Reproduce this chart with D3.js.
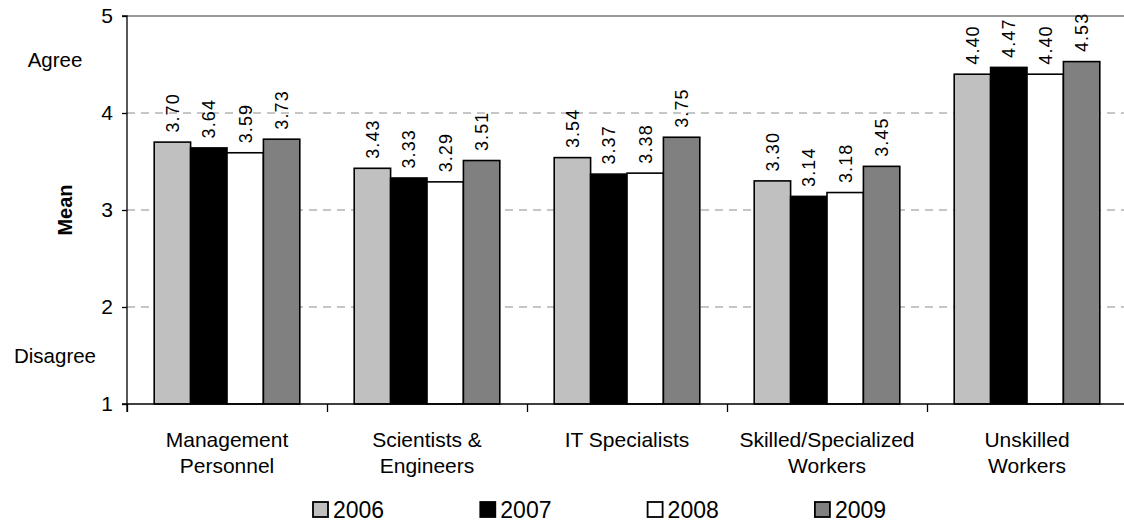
<!DOCTYPE html>
<html>
<head>
<meta charset="utf-8">
<script src="https://cdn.jsdelivr.net/npm/d3@7"></script>
<style>
  html, body { margin: 0; padding: 0; background: #fff; }
  svg { display: block; font-family: "Liberation Sans", Arial, sans-serif; }
</style>
</head>
<body>
<svg id="chart" width="1124" height="522"></svg>
<script>
// Mean agreement ratings by worker category, per survey year
const categories = [
  ["Management", "Personnel"],
  ["Scientists &", "Engineers"],
  ["IT Specialists"],
  ["Skilled/Specialized", "Workers"],
  ["Unskilled", "Workers"]
];
const years = ["2006", "2007", "2008", "2009"];
const values2006 = [3.70, 3.43, 3.54, 3.30, 4.40];
const values2007 = [3.64, 3.33, 3.37, 3.14, 4.47];
const values2008 = [3.59, 3.29, 3.38, 3.18, 4.40];
const values2009 = [3.73, 3.51, 3.75, 3.45, 4.53];
const yTicks = [1, 2, 3, 4, 5];
const scaleLabels = [{ text: "Agree", v: 4.55 }, { text: "Disagree", v: 1.5 }];

const series = [values2006, values2007, values2008, values2009];
const fills = ["#c0c0c0", "#000000", "#ffffff", "#808080"];

const svg = d3.select("#chart");
const plotLeft = 127, plotRight = 1127, plotTop = 16, plotBottom = 404;

const catKeys = categories.map((c, i) => i);
const x0 = d3.scaleBand().domain(catKeys).range([plotLeft, plotRight]);
const groupGap = x0.bandwidth() * 0.136;
const x1 = d3.scaleBand().domain(years)
  .range([groupGap, x0.bandwidth() - groupGap]).padding(0);
const y = d3.scaleLinear().domain([1, 5]).range([plotBottom, plotTop]);

// dashed gridlines
svg.append("g")
  .selectAll("line")
  .data([2, 3, 4])
  .join("line")
  .attr("x1", plotLeft).attr("x2", 1124)
  .attr("y1", d => y(d)).attr("y2", d => y(d))
  .attr("stroke", "#8c8c8c").attr("stroke-width", 1)
  .attr("stroke-dasharray", "8,6");

// top border
svg.append("line")
  .attr("x1", plotLeft).attr("x2", 1124)
  .attr("y1", y(5)).attr("y2", y(5))
  .attr("stroke", "#999").attr("stroke-width", 2);

// bars
const groups = svg.append("g")
  .selectAll("g")
  .data(catKeys)
  .join("g")
  .attr("transform", d => `translate(${x0(d)},0)`);

const cells = ci => years.map((yr, si) => ({ yr, si, v: series[si][ci] }));

groups.selectAll("rect")
  .data(cells)
  .join("rect")
  .attr("x", d => x1(d.yr))
  .attr("y", d => y(d.v))
  .attr("width", x1.bandwidth())
  .attr("height", d => y(1) - y(d.v))
  .attr("fill", d => fills[d.si])
  .attr("stroke", "#000").attr("stroke-width", 1.6);

// value labels, rotated to read upward
groups.selectAll("g.value")
  .data(cells)
  .join("g")
  .attr("class", "value")
  .attr("transform", d => `translate(${x1(d.yr) + x1.bandwidth() / 2},${y(d.v) - 9.5}) rotate(-90)`)
  .append("text")
  .attr("x", 0).attr("y", 0)
  .attr("dy", "0.35em")
  .attr("text-anchor", "start")
  .attr("font-size", 18)
  .attr("letter-spacing", 1.1)
  .attr("fill", "#000")
  .text(d => d.v.toFixed(2));

// y axis
const yAxis = d3.axisLeft(y).tickValues(yTicks).tickSize(5).tickPadding(9)
  .tickFormat(d3.format("d"));
const gy = svg.append("g").attr("transform", `translate(${plotLeft},0)`).call(yAxis);
gy.select(".domain").attr("stroke", "#000").attr("stroke-width", 1.3)
  .attr("d", `M-5,${plotTop}H0V${plotBottom + 8}`);
gy.selectAll(".tick line").attr("stroke", "#000").attr("stroke-width", 1.3);
gy.selectAll(".tick text").attr("font-size", 21).attr("fill", "#000")
  .attr("font-family", "'Liberation Sans', Arial, sans-serif");

// x axis
const xAxis = d3.axisBottom(d3.scaleLinear().domain([0, 5]).range([plotLeft, plotRight]))
  .tickValues([0, 1, 2, 3, 4, 5]).tickSize(8).tickFormat("");
const gx = svg.append("g").attr("transform", `translate(0,${plotBottom})`).call(xAxis);
gx.select(".domain").attr("stroke", "#000").attr("stroke-width", 1.3)
  .attr("d", `M${plotLeft - 5},0H${plotRight}`);
gx.selectAll(".tick line").attr("stroke", "#000").attr("stroke-width", 1.3);

// category labels
svg.append("g")
  .selectAll("text")
  .data(catKeys)
  .join("text")
  .attr("x", d => x0(d) + x0.bandwidth() / 2)
  .attr("y", 447)
  .attr("text-anchor", "middle")
  .attr("font-size", 21)
  .attr("fill", "#000")
  .each(function (d) {
    const t = d3.select(this);
    categories[d].forEach((line, i) => {
      t.append("tspan")
        .attr("x", x0(d) + x0.bandwidth() / 2)
        .attr("dy", i === 0 ? 0 : 26)
        .text(line);
    });
  });

// scale labels
svg.append("g")
  .selectAll("text")
  .data(scaleLabels)
  .join("text")
  .attr("x", 55)
  .attr("y", d => y(d.v))
  .attr("dy", "0.35em")
  .attr("text-anchor", "middle")
  .attr("font-size", 20.5)
  .attr("fill", "#000")
  .text(d => d.text);

// axis title
svg.append("text")
  .attr("transform", `translate(65,${(plotTop + plotBottom) / 2}) rotate(-90)`)
  .attr("dy", "0.35em")
  .attr("text-anchor", "middle")
  .attr("font-size", 20)
  .attr("font-weight", "bold")
  .attr("fill", "#000")
  .text("Mean");

// legend
const legend = svg.append("g")
  .selectAll("g")
  .data(years)
  .join("g")
  .attr("transform", (d, i) => `translate(${313 + i * 167.3},502)`);
legend.append("rect")
  .attr("width", 15).attr("height", 15)
  .attr("fill", (d, i) => fills[i])
  .attr("stroke", "#000").attr("stroke-width", 1.8);
legend.append("text")
  .attr("x", 20).attr("y", 16)
  .attr("font-size", 23)
  .attr("fill", "#000")
  .text(d => d);
</script>
</body>
</html>
